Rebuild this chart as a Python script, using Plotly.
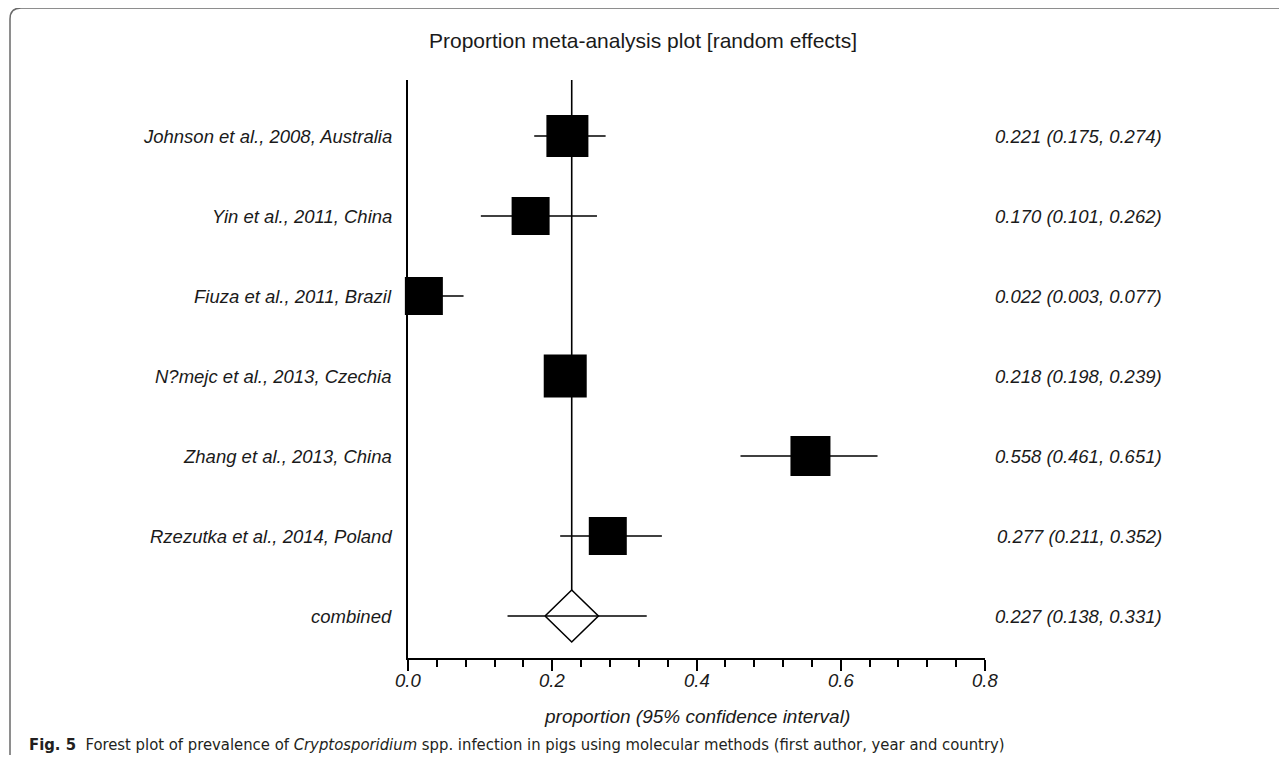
import plotly.graph_objects as go

# ---- data ----
studies = [
    "Johnson et al., 2008, Australia",
    "Yin et al., 2011, China",
    "Fiuza et al., 2011, Brazil",
    "N?mejc et al., 2013, Czechia",
    "Zhang et al., 2013, China",
    "Rzezutka et al., 2014, Poland",
]
prop = [0.221, 0.170, 0.022, 0.218, 0.558, 0.277]
lower = [0.175, 0.101, 0.003, 0.198, 0.461, 0.211]
upper = [0.274, 0.262, 0.077, 0.239, 0.651, 0.352]
pooled_label = "combined"
pooled = 0.227
pooled_lo = 0.138
pooled_hi = 0.331
x_ticks = [0.0, 0.2, 0.4, 0.6, 0.8]

# ---- styles ----
sq_sizes = [42, 38, 38, 43, 40, 38]
OFF = 8  # page body margin
W, H = 1287 - 2 * OFF, 763 - 2 * OFF
X0, X1, Y0, Y1 = 408 - OFF, 985 - OFF, 80 - OFF, 658 - OFF  # plot area in figure pixels
diamond_hw = 0.037
diamond_hh = 0.325
FONT = "Liberation Sans, Arial, sans-serif"

def px(x):
    """window pixel x -> paper coordinate"""
    return (x - OFF - X0) / (X1 - X0)

def py(y):
    """window pixel y -> paper coordinate"""
    return (Y1 - (y - OFF)) / (Y1 - Y0)

n = len(studies)
rows = list(range(1, n + 1))
pool_row = n + 1

fig = go.Figure()

# CI lines
ex, ey = [], []
for lo, hi, r in zip(lower + [pooled_lo], upper + [pooled_hi], rows + [pool_row]):
    ex += [lo, hi, None]
    ey += [r, r, None]
fig.add_trace(go.Scatter(x=ex, y=ey, mode="lines",
                         line=dict(color="black", width=1.6),
                         hoverinfo="skip", showlegend=False))

# vertical line at pooled estimate
fig.add_trace(go.Scatter(x=[pooled, pooled], y=[0.3, pool_row - diamond_hh], mode="lines",
                         line=dict(color="black", width=1.6),
                         hoverinfo="skip", showlegend=False))

# squares
fig.add_trace(go.Scatter(x=prop, y=rows, mode="markers",
                         marker=dict(symbol="square", size=sq_sizes, color="black",
                                     opacity=1, line=dict(width=0)),
                         showlegend=False, cliponaxis=False))

# diamond
fig.add_trace(go.Scatter(
    x=[pooled - diamond_hw, pooled, pooled + diamond_hw, pooled, pooled - diamond_hw],
    y=[pool_row, pool_row - diamond_hh, pool_row, pool_row + diamond_hh, pool_row],
    mode="lines", line=dict(color="black", width=1.6),
    hoverinfo="skip", showlegend=False, cliponaxis=False))

ann = []
lab_font = dict(family=FONT, size=18.5, color="#1a1a1a", style="italic")
for lab, p, lo, hi, r in zip(studies + [pooled_label], prop + [pooled],
                             lower + [pooled_lo], upper + [pooled_hi], rows + [pool_row]):
    ann.append(dict(x=px(394), y=r, xref="paper", yref="y", text=lab, showarrow=False,
                    xanchor="right", yanchor="middle", font=lab_font))
    ann.append(dict(x=px(1164), y=r, xref="paper", yref="y",
                    text=f"{p:.3f} ({lo:.3f}, {hi:.3f})", showarrow=False,
                    xanchor="right", yanchor="middle", font=lab_font))

# x tick labels
for v in x_ticks:
    ann.append(dict(x=v, y=py(680), xref="x", yref="paper", text=f"{v:.1f}",
                    showarrow=False, xanchor="center", yanchor="middle", font=lab_font))

# title
ann.append(dict(x=px(643), y=py(40), xref="paper", yref="paper",
                text="Proportion meta-analysis plot [random effects]", showarrow=False,
                xanchor="center", yanchor="middle",
                font=dict(family=FONT, size=21, color="#1a1a1a")))
# axis title
ann.append(dict(x=px(697), y=py(717), xref="paper", yref="paper",
                text="proportion (95% confidence interval)", showarrow=False,
                xanchor="center", yanchor="middle",
                font=dict(family=FONT, size=19, color="#1a1a1a", style="italic")))
# caption
ann.append(dict(x=px(27), y=py(744), xref="paper", yref="paper",
                text="<b>Fig. 5</b>  Forest plot of prevalence of <i>Cryptosporidium</i> spp. "
                     "infection in pigs using molecular methods (first author, year and country)",
                showarrow=False, xanchor="left", yanchor="middle",
                font=dict(family="DejaVu Sans Condensed, sans-serif",
                          size=16.5, color="#231f20")))

frame = dict(type="path", xref="paper", yref="paper", layer="above",
             path=(f"M {px(10)},{py(790)} L {px(10)},{py(19)} "
                   f"Q {px(10)},{py(8)} {px(21)},{py(8)} L {px(1300)},{py(8)}"),
             line=dict(color="#6a6a6a", width=1.5))

fig.update_layout(
    width=W, height=H,
    margin=dict(l=X0, r=W - X1, t=Y0, b=H - Y1),
    paper_bgcolor="white", plot_bgcolor="white",
    annotations=ann, shapes=[frame],
    xaxis=dict(range=[0, 0.8], tickvals=x_ticks, showticklabels=False,
               ticks="outside", ticklen=11, tickwidth=1.5, tickcolor="black",
               showline=True, linecolor="black", linewidth=1.6,
               showgrid=False, zeroline=False,
               minor=dict(dtick=0.04, tick0=0, ticks="outside", ticklen=7,
                          tickwidth=1.5, tickcolor="black", showgrid=False)),
    yaxis=dict(range=[7.525, 0.3], showline=True, linecolor="black", linewidth=1.6,
               showticklabels=False, ticks="", showgrid=False, zeroline=False),
)

fig.write_html("out.html")
